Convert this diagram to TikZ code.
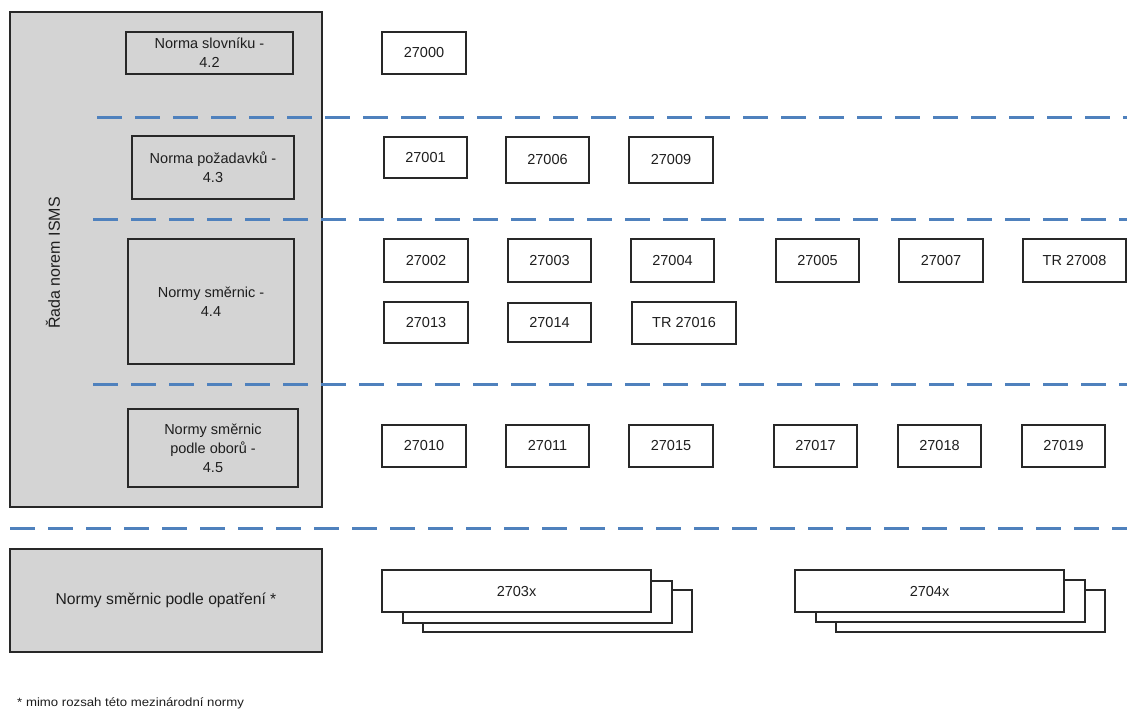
\documentclass[tikz,border=0pt]{standalone}
\usepackage{fontspec}
\setmainfont{Liberation Sans}
\definecolor{graybg}{RGB}{212,212,212}
\definecolor{dashblue}{RGB}{79,129,189}
\definecolor{edge}{RGB}{40,40,40}
\definecolor{txt}{RGB}{30,30,30}
\tikzset{
  graybox/.style={draw=edge, fill=graybg, line width=1.3pt, inner sep=0pt, text=txt, align=center, font=\fontsize{14.5}{19}\selectfont},
  numbox/.style={draw=edge, fill=white, line width=1.6pt, inner sep=0pt, text=txt, align=center, minimum width=84pt, minimum height=42pt, font=\fontsize{14.5}{17}\selectfont},
  stackbox/.style={draw=edge, fill=white, line width=1.6pt, inner sep=0pt, minimum width=269pt, minimum height=42pt, text=txt, font=\fontsize{14.5}{17}\selectfont},
  sepline/.style={draw=dashblue, line width=3pt, dash pattern=on 25pt off 13pt},
}
\begin{document}
\begin{tikzpicture}[x=1pt,y=-1pt]
\useasboundingbox[fill=white] (0,0) rectangle (1127,710);
% outer gray panel
\node[graybox, minimum width=312pt, minimum height=495pt] (isms) at (166,259.5) {};
\node[rotate=90, text=txt, font=\fontsize{16}{19}\selectfont] (islabel) at (53,263) {Řada norem ISMS};
% left category boxes
\node[graybox, minimum width=167pt, minimum height=42pt] (c42) at (209.5,53) {Norma slovníku -\\4.2};
\node[graybox, minimum width=162pt, minimum height=63pt] (c43) at (213,167.5) {Norma požadavků -\\4.3};
\node[graybox, minimum width=166pt, minimum height=125pt] (c44) at (211,301.5) {Normy směrnic -\\4.4};
\node[graybox, minimum width=170pt, minimum height=78pt] (c45) at (213,448) {Normy směrnic\\podle oborů -\\4.5};
\node[graybox, minimum width=312pt, minimum height=103pt, font=\fontsize{15.7}{19}\selectfont] (c46) at (166,600.5) {Normy směrnic podle opatření *};
% separators
\draw[sepline] (97,117) -- (1127,117);
\draw[sepline] (93,219) -- (1127,219);
\draw[sepline] (93,384) -- (1127,384);
\draw[sepline] (10,528) -- (1127,528);
% standards
\node[numbox] (n27000) at (424,53) {27000};
\node[numbox, minimum width=83pt, minimum height=41pt] (n27001) at (425.5,157.5) {27001};
\node[numbox, minimum width=83pt, minimum height=46pt] (n27006) at (547.5,160) {27006};
\node[numbox, minimum height=46pt] (n27009) at (671,160) {27009};
\node[numbox, minimum height=43pt] (n27002) at (426,260.5) {27002};
\node[numbox, minimum width=83pt, minimum height=43pt] (n27003) at (549.5,260.5) {27003};
\node[numbox, minimum width=83pt, minimum height=43pt] (n27004) at (672.5,260.5) {27004};
\node[numbox, minimum width=83pt, minimum height=43pt] (n27005) at (817.5,260.5) {27005};
\node[numbox, minimum height=43pt] (n27007) at (941,260.5) {27007};
\node[numbox, minimum width=103pt, minimum height=43pt] (n27008) at (1074.5,260.5) {TR 27008};
\node[numbox, minimum height=41pt] (n27013) at (426,322.5) {27013};
\node[numbox, minimum width=83pt, minimum height=39pt] (n27014) at (549.5,322.5) {27014};
\node[numbox, minimum width=104pt, minimum height=42pt] (n27016) at (684,323) {TR 27016};
\node[numbox] (n27010) at (424,446) {27010};
\node[numbox, minimum width=83pt] (n27011) at (547.5,446) {27011};
\node[numbox] (n27015) at (671,446) {27015};
\node[numbox, minimum width=83pt] (n27017) at (815.5,446) {27017};
\node[numbox, minimum width=83pt] (n27018) at (939.5,446) {27018};
\node[numbox, minimum width=83pt] (n27019) at (1063.5,446) {27019};
% stacked series
\node[stackbox] (s3c) at (557.5,611) {};
\node[stackbox] (s3b) at (537.5,602) {};
\node[stackbox] (s3a) at (516.5,591) {2703x};
\node[stackbox] (s4c) at (970.5,611) {};
\node[stackbox] (s4b) at (950.5,601) {};
\node[stackbox] (s4a) at (929.5,591) {2704x};
% footnote
\node[anchor=base west, text=txt, inner sep=0pt, font=\fontsize{12}{14}\selectfont, xscale=1.1] (foot) at (17,706) {* mimo rozsah této mezinárodní normy};
\end{tikzpicture}
\end{document}
